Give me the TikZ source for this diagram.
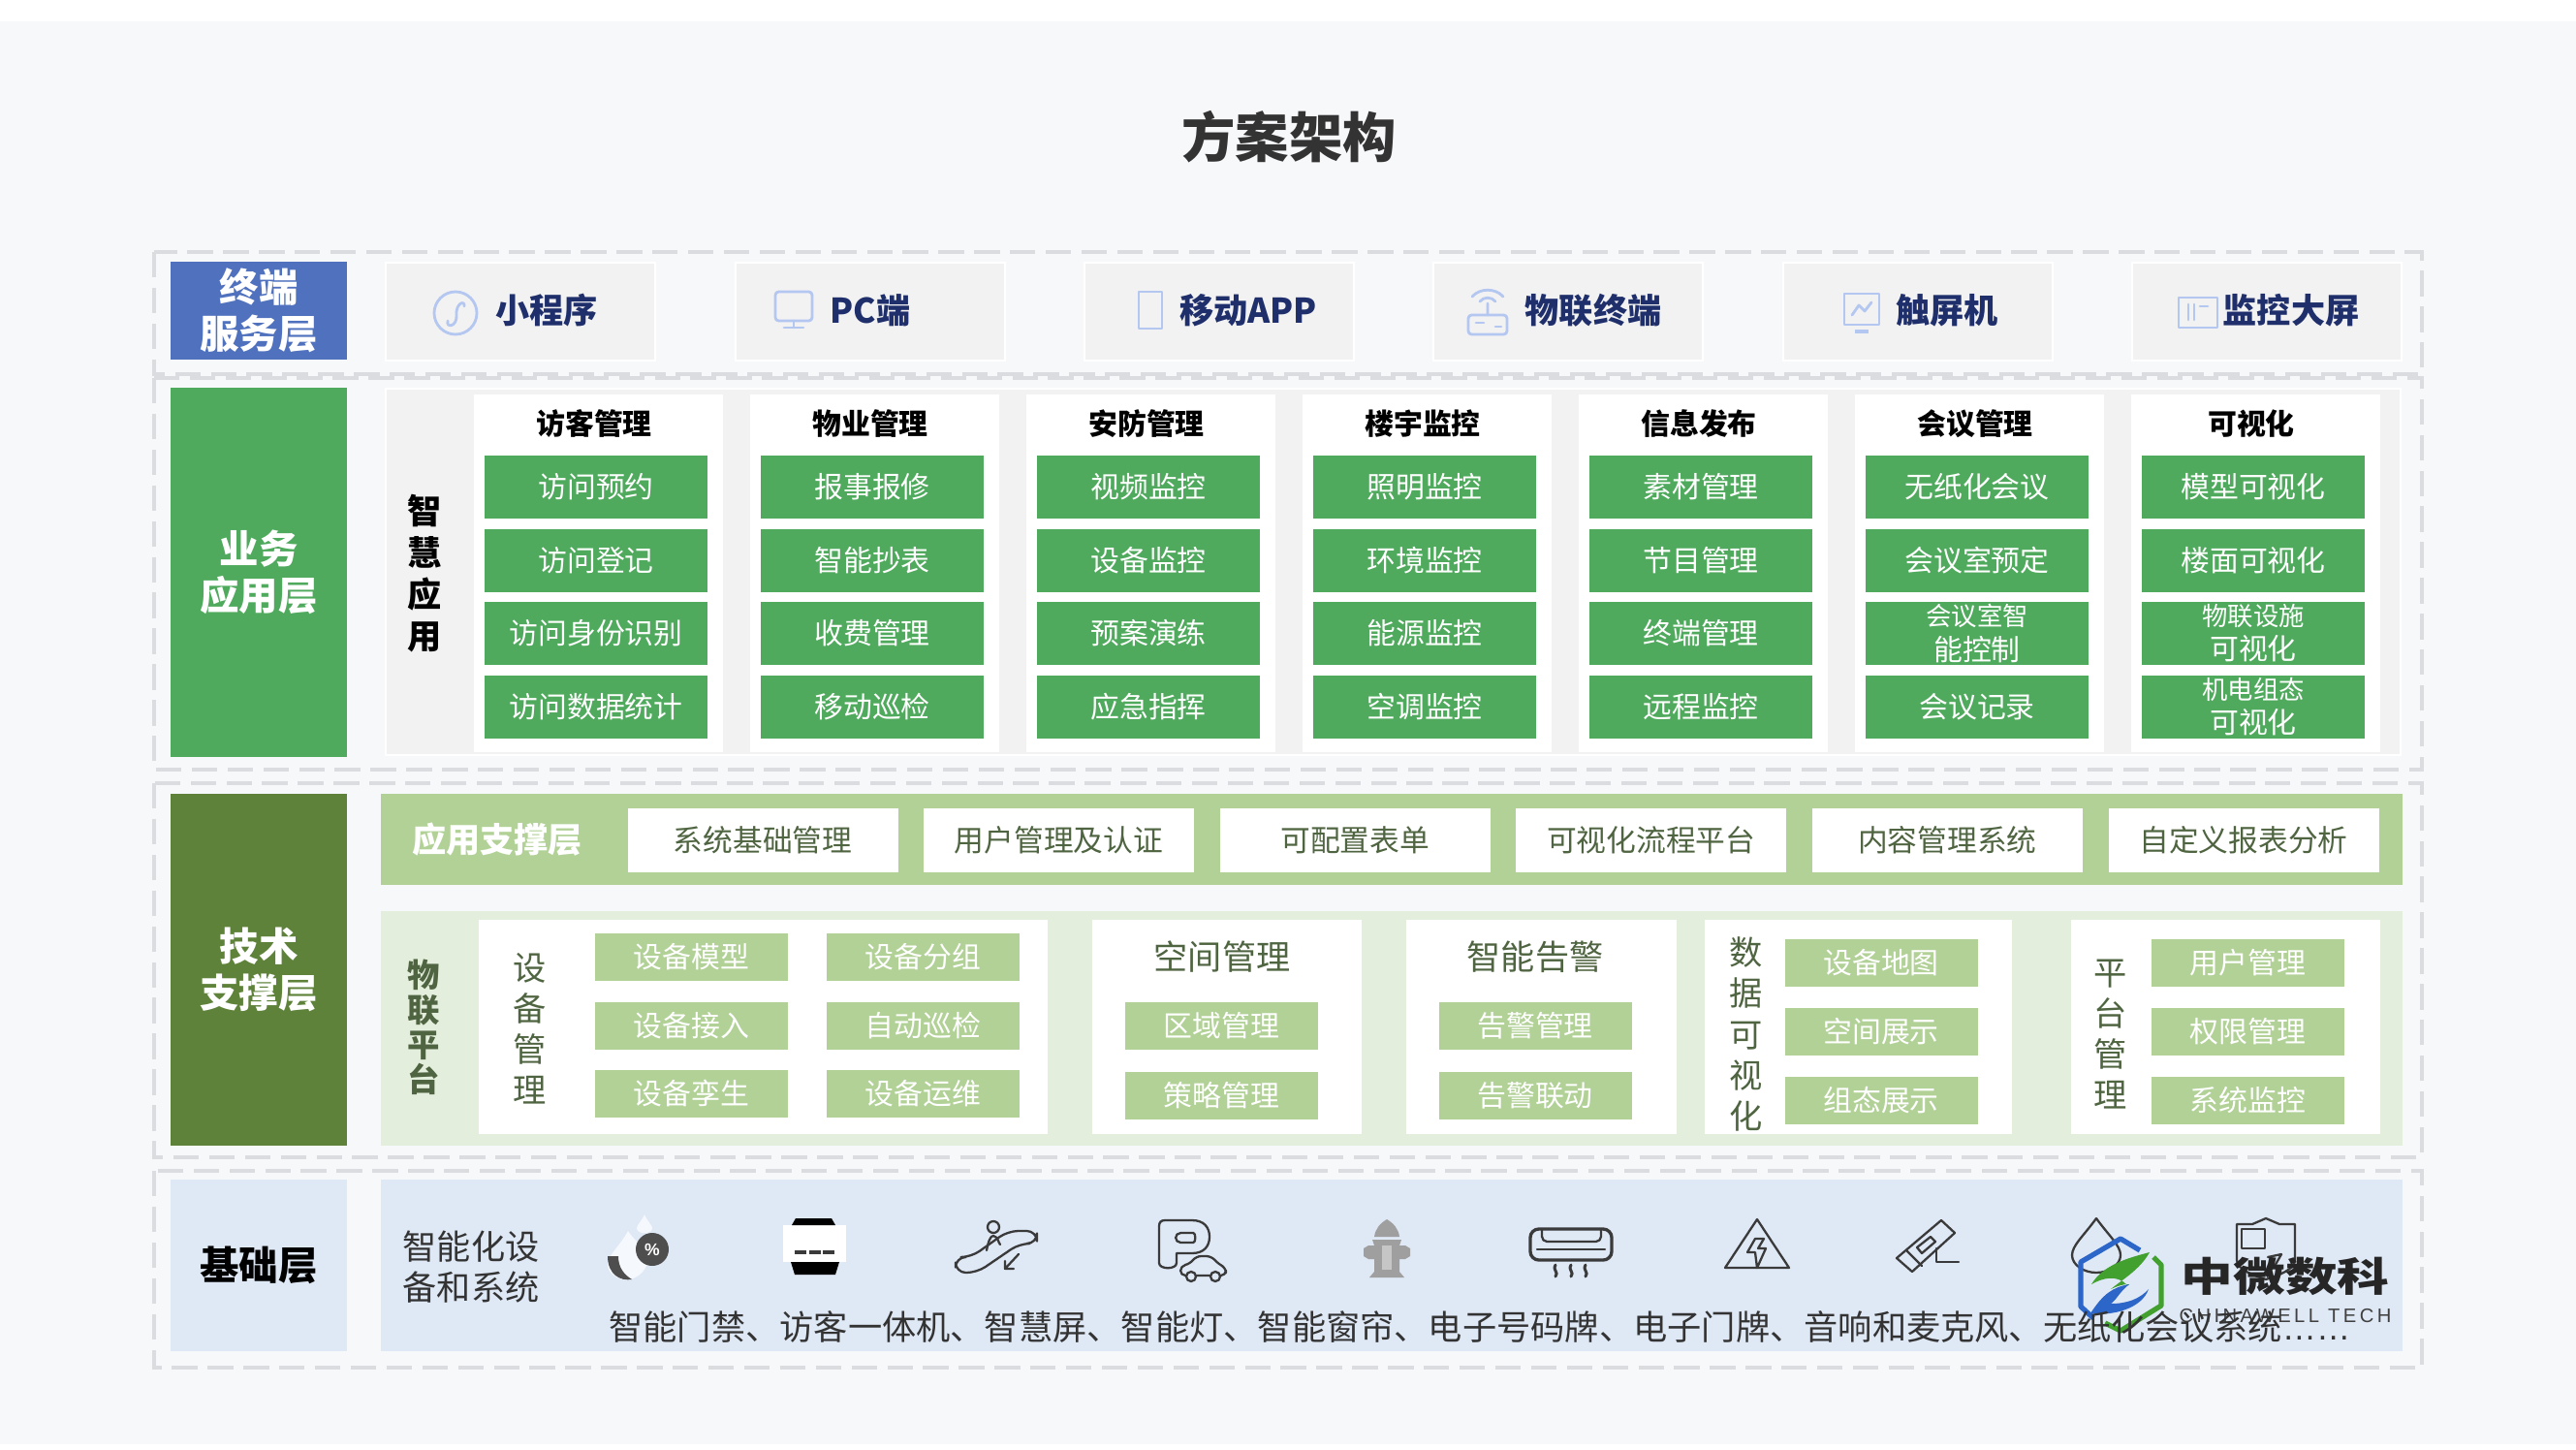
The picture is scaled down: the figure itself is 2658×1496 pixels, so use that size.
\documentclass[tikz,border=0pt]{standalone}
\usepackage{fontspec}
\setmainfont{Noto Sans CJK SC}
\newfontfamily\latinfont{Liberation Sans}
\newfontfamily\logofont[LetterSpace=17]{Liberation Sans}
\definecolor{pagebg}{HTML}{F7F8FA}
\definecolor{dashgray}{HTML}{DADCE0}
\definecolor{panelgray}{HTML}{F2F2F2}
\definecolor{termblue}{HTML}{4F71BE}
\definecolor{appgreen}{HTML}{4FAA5D}
\definecolor{techgreen}{HTML}{5E823A}
\definecolor{basefill}{HTML}{DFE8F5}
\definecolor{leafgreen}{HTML}{B1D196}
\definecolor{palegreen}{HTML}{E4EEDC}
\definecolor{navytext}{HTML}{1F2F6B}
\definecolor{olivetext}{HTML}{4F6440}
\definecolor{icondark}{HTML}{3A3A3A}
\definecolor{iconblue}{HTML}{B4C7F0}
\definecolor{logoblue}{HTML}{2B66C8}
\definecolor{logogreen}{HTML}{42A02F}
\newcommand{\twoline}[2]{\fontsize{15}{18.2}\selectfont #1\\#2}
\tikzset{
boxsize/.style 2 args={minimum width=#1*0.2mm,minimum height=#2*0.2mm},
flatbox/.style={inner sep=0pt,align=center},
dashframe/.style={draw=dashgray,line width=2.1pt,dash pattern=on 15pt off 6pt},
layerbox/.style={flatbox,text=white,font=\bfseries\fontsize{23}{27.3}\selectfont},
termbox/.style={flatbox,boxsize={278}{101},fill=panelgray,draw=white,line width=1pt},
termtext/.style={text=navytext,font=\bfseries\fontsize{20}{24}\selectfont},
panelbox/.style={flatbox,fill=#1},
colbox/.style={flatbox,boxsize={257}{369},fill=white},
headtext/.style={text=black,font=\bfseries\fontsize{17}{20}\selectfont},
appbox/.style={flatbox,boxsize={230}{65},fill=appgreen,text=white,font=\fontsize{17}{20}\selectfont},
supbox/.style={flatbox,boxsize={279}{66},fill=white,text=olivetext,font=\fontsize{17.5}{20}\selectfont},
leafbox/.style={flatbox,boxsize={199}{49},fill=leafgreen,text=white,font=\fontsize{17}{20}\selectfont},
vtext/.style={flatbox,text=olivetext,font=\fontsize{19.5}{24}\selectfont},
termicon/.style={draw=iconblue,line width=1.6pt,line join=round,line cap=round},
baseicon/.style={draw=icondark,line width=1.3pt,line join=round,line cap=round}
}
\begin{document}
\begin{tikzpicture}[x=0.2mm,y=-0.2mm]
\useasboundingbox (0,0) rectangle (2658,1496);
\fill[white] (0,0) rectangle (2658,1496);
\fill[pagebg] (0,22) rectangle (2658,1490);
\node[flatbox,text=black!80,font=\bfseries\fontsize{31.5}{36}\selectfont] (title) at (1330,141) {方案架构};
\foreach \ya/\yb in {260/386,390/794,808/1194,1208/1411}{\draw[dashframe] (159,\ya) rectangle (2499,\yb);}
\foreach \n/\y/\h/\col/\txt in {lyterm/320.5/101/termblue/{终端\\服务层},lyapp/590.5/381/appgreen/{业务\\应用层},lytech/1000.5/363/techgreen/{技术\\支撑层}}{
\node[layerbox,boxsize={182}{\h},fill=\col] (\n) at (267,\y) {\txt};}
\node[layerbox,boxsize={182}{177},fill=basefill,text=black] (lybase) at (267,1305.5) {基础层};
\foreach \n/\x/\tx/\txt in {tmmini/537/564/小程序,tmpc/898/898/PC端,tmapp/1258/1288/移动APP,tmiot/1618/1644/物联终端,tmtouch/1979/2009/触屏机,tmwall/2339/2364/监控大屏}{
\node[termbox] (\n) at (\x,321.5) {};
\node[termtext] (\n txt) at (\tx,320) {\txt};}
\begin{scope}[shift={(470,323)}]
\draw[termicon] (0,0) circle (22);
\draw[termicon] (-8,8) .. controls (-10,16) and (2,14) .. (1,2) .. controls (0,-10) and (10,-14) .. (9,-7);
\end{scope}
\begin{scope}[shift={(819,320)}]
\draw[termicon,rounded corners=2pt] (-19,-19) rectangle (19,11);
\draw[termicon] (0,11) -- (0,18) (-10,18) -- (10,18);
\end{scope}
\begin{scope}[shift={(1187,320)}]
\draw[termicon] (-12,-19) rectangle (12,19);
\end{scope}
\begin{scope}[shift={(1535,323)}]
\draw[termicon,rounded corners=2pt] (-20,2) rectangle (20,22);
\draw[termicon] (0,2) -- (0,-10) (-8,-12) .. controls (-4,-17) and (4,-17) .. (8,-12) (-16,-17) .. controls (-8,-26) and (8,-26) .. (16,-17);
\draw[termicon] (-12,10) -- (-4,10) (8,14) -- (14,14);
\end{scope}
\begin{scope}[shift={(1921,321)}]
\draw[termicon] (-18,-18) rectangle (18,14);
\draw[termicon] (-10,4) -- (-3,-6) -- (3,0) -- (10,-9);
\fill[iconblue] (-7,19) rectangle (7,23);
\end{scope}
\begin{scope}[shift={(2268,322)}]
\draw[termicon] (-20,-15) rectangle (20,16);
\draw[termicon] (-10,-8) -- (-10,8) (-4,-8) -- (-4,8) (2,-6) -- (10,-6);
\end{scope}
\node[panelbox=panelgray,boxsize={2079}{378},draw=white,line width=1pt] (apppanel) at (1437.5,590) {};
\node[flatbox,text=black,font=\bfseries\fontsize{20}{24.5}\selectfont] (appside) at (438,591.5) {智\\慧\\应\\用};
\foreach \ttl/\ia/\ib/\ic/\id [count=\colno from 0] in {访客管理/访问预约/访问登记/访问身份识别/访问数据统计,物业管理/报事报修/智能抄表/收费管理/移动巡检,安防管理/视频监控/设备监控/预案演练/应急指挥,楼宇监控/照明监控/环境监控/能源监控/空调监控,信息发布/素材管理/节目管理/终端管理/远程监控,会议管理/无纸化会议/会议室预定/{\twoline{会议室智}{能控制}}/会议记录,可视化/模型可视化/楼面可视化/{\twoline{物联设施}{可视化}}/{\twoline{机电组态}{可视化}}}{
\pgfmathsetmacro\xc{617+285*\colno}
\node[colbox] (col\colno) at (\xc,591.5) {};
\node[headtext] (head\colno) at (\xc-4,437) {\ttl};
\foreach \rowno/\yr/\txt in {1/502/\ia,2/578/\ib,3/653.5/\ic,4/729/\id}{\node[appbox] (item\colno-\rowno) at (\xc-2,\yr) {\txt};}
}
\node[panelbox=leafgreen,boxsize={2086}{94}] (suppanel) at (1436,866) {};
\node[flatbox,text=white,font=\bfseries\fontsize{20}{24}\selectfont] (suptitle) at (513,866) {应用支撑层};
\foreach \txt [count=\i from 0] in {系统基础管理,用户管理及认证,可配置表单,可视化流程平台,内容管理系统,自定义报表分析}{
\node[supbox] (sup\i) at (787+305.6*\i,867) {\txt};}
\node[panelbox=palegreen,boxsize={2086}{242}] (iotpanel) at (1436,1061) {};
\node[vtext,text=olivetext,font=\bfseries\fontsize{19}{20.5}\selectfont] (iotside) at (437,1060) {物\\联\\平\\台};
\foreach \n/\x/\w in {iota/787.5/587,iotb/1266/278,iotc/1590.5/279,iotd/1917.5/317,iote/2296.5/319}{
\node[panelbox=white,boxsize={\w}{221}] (\n) at (\x,1059.5) {};}
\node[vtext] (iotatxt) at (547,1061) {设\\备\\管\\理};
\node[vtext] (iotdtxt) at (1802,1067) {数\\据\\可\\视\\化};
\node[vtext] (ioetxt) at (2178,1067) {平\\台\\管\\理};
\node[flatbox,text=olivetext,font=\fontsize{20}{24}\selectfont] (iotbtxt) at (1261,987) {空间管理};
\node[flatbox,text=olivetext,font=\fontsize{20}{24}\selectfont] (iotctxt) at (1584,987) {智能告警};
\foreach \n/\x/\y/\txt in {la1/713.5/987/设备模型,la2/952.5/987/设备分组,la3/713.5/1058/设备接入,la4/952.5/1058/自动巡检,la5/713.5/1128/设备孪生,la6/952.5/1128/设备运维,lb1/1260.5/1058/区域管理,lb2/1260.5/1130/策略管理,lc1/1584/1058/告警管理,lc2/1584/1130/告警联动,ld1/1941/993.5/设备地图,ld2/1941/1064/空间展示,ld3/1941/1135/组态展示,le1/2319.5/993.5/用户管理,le2/2319.5/1064/权限管理,le3/2319.5/1135/系统监控}{
\node[leafbox] (\n) at (\x,\y) {\txt};}
\node[panelbox=basefill,boxsize={2086}{177}] (basepanel) at (1436,1305.5) {};
\node[flatbox,text=black!80,font=\fontsize{20}{24}\selectfont] (basetitle) at (486,1307) {智能化设\\备和系统};
%% device icons
\fill[white!70!basefill] (648,1270) .. controls (640,1285) and (627,1295) .. (627,1305) .. controls (627,1315) and (640,1322) .. (650,1320) .. controls (660,1318) and (669,1308) .. (669,1298) .. controls (669,1290) and (656,1282) .. (648,1270);
\fill[white!70!basefill] (665,1253) .. controls (662,1260) and (657,1264) .. (657,1267) .. controls (657,1274) and (673,1274) .. (673,1267) .. controls (673,1264) and (668,1260) .. (665,1253);
\fill[icondark!90] (627,1296) -- (638,1296) .. controls (638,1308) and (644,1315) .. (652,1320) .. controls (640,1322) and (627,1315) .. (627,1296);
\node[circle,fill=icondark!90,minimum size=34*0.2mm,inner sep=0pt,text=white,font=\latinfont\bfseries\fontsize{10}{10}\selectfont] (iconpct) at (673,1289) {\%};
\fill[white] (808,1264) rectangle (873,1302);
\fill[black] (817,1264) -- (821,1257) -- (858,1257) -- (862,1264) -- cycle (816,1302) -- (866,1302) -- (862,1315) -- (820,1315) -- cycle;
\foreach \x in {820,835,849}{\fill[icondark] (\x,1290) rectangle ++(12,4);}
\draw[baseicon] (1025,1266) circle (6);
\draw[baseicon] (1018,1290) .. controls (1020,1280) and (1022,1275) .. (1025,1275) .. controls (1030,1276) and (1030,1282) .. (1032,1284);
\draw[baseicon,rounded corners=6pt] (986,1297) -- (1002,1297) -- (1040,1270) -- (1070,1270) -- (1070,1283) -- (1052,1283) -- (1008,1313) -- (986,1313) -- cycle;
\draw[baseicon] (1051,1294) -- (1037,1309) (1037,1301) -- (1037,1309) -- (1046,1309);
\draw[baseicon] (1202,1259) -- (1230,1259) .. controls (1242,1259) and (1248,1266) .. (1248,1276) .. controls (1248,1286) and (1242,1293) .. (1230,1293) -- (1214,1293) -- (1214,1303) .. controls (1214,1310) and (1196,1310) .. (1196,1303) -- (1196,1265) .. controls (1196,1261) and (1198,1259) .. (1202,1259) -- cycle;
\draw[baseicon,rounded corners=3pt] (1213,1272) -- (1226,1272) .. controls (1234,1272) and (1234,1282) .. (1226,1282) -- (1213,1282) -- cycle;
\draw[baseicon,fill=basefill,rounded corners=3pt] (1218,1316) -- (1218,1306) -- (1228,1304) -- (1234,1296) -- (1250,1296) -- (1257,1304) -- (1265,1308) -- (1265,1316) -- cycle;
\draw[baseicon,fill=basefill] (1229,1317) circle (5) (1254,1317) circle (5);
\fill[gray!75] (1431,1258) .. controls (1424,1262) and (1419,1268) .. (1418,1276) -- (1444,1276) .. controls (1443,1268) and (1438,1262) .. (1431,1258) -- cycle (1416,1279) -- (1446,1279) -- (1444,1285) -- (1450,1285) -- (1455,1288) -- (1455,1296) -- (1450,1299) -- (1444,1299) -- (1444,1312) -- (1449,1318) -- (1413,1318) -- (1418,1312) -- (1418,1299) -- (1412,1299) -- (1407,1296) -- (1407,1288) -- (1412,1285) -- (1418,1285) -- cycle;
\fill[gray!45] (1426,1285) rectangle (1436,1310);
\draw[baseicon,line width=1.9pt,rounded corners=5pt] (1579,1268) rectangle (1663,1300);
\draw[baseicon,rounded corners=3pt] (1591,1268) -- (1591,1281) -- (1652,1281) -- (1652,1268);
\draw[baseicon] (1586,1289) -- (1656,1289);
\foreach \x in {1605,1621,1636}{\draw[baseicon,line width=1.7pt] (\x,1305) .. controls (\x-4,1309) and (\x+4,1313) .. (\x,1317);}
\draw[baseicon] (1813,1258) -- (1780,1308) -- (1846,1308) -- cycle;
\draw[baseicon] (1811,1278) -- (1803,1292) -- (1811,1292) -- (1813,1308) -- (1822,1288) -- (1814,1288) -- (1820,1278) -- cycle;
\draw[baseicon] (2003,1259) -- (2017,1272) -- (1973,1312) -- (1957,1298) -- cycle;
\draw[baseicon] (1968,1291) -- (1983,1306) (1978,1287) -- (1992,1276) -- (1997,1281) -- (1983,1293) -- cycle;
\draw[baseicon] (1998,1288) -- (1998,1302) -- (2021,1302);
\draw[baseicon] (2163,1257) .. controls (2150,1275) and (2138,1285) .. (2138,1295) .. controls (2138,1305) and (2150,1313) .. (2163,1313) .. controls (2176,1313) and (2188,1305) .. (2188,1295) .. controls (2188,1285) and (2176,1275) .. (2163,1257);
\draw[baseicon] (2308,1263) -- (2324,1263) -- (2338,1257) -- (2352,1263) -- (2368,1263) -- (2368,1300) .. controls (2368,1310) and (2350,1316) .. (2338,1320) .. controls (2326,1316) and (2308,1310) .. (2308,1300) -- cycle;
\draw[baseicon] (2313,1268) rectangle (2337,1288);
\draw[baseicon] (2340,1297) -- (2354,1294) -- (2346,1308);
%% logo
\draw[logoblue,line width=3pt,line join=round] (2208,1290) -- (2188,1278) -- (2147,1302) -- (2147,1348) -- (2160,1360);
\draw[logogreen,line width=3pt,line join=round] (2222,1297) -- (2230,1305) -- (2230,1347) -- (2188,1373) -- (2172,1365);
\fill[logogreen] (2158,1325) .. controls (2170,1305) and (2195,1298) .. (2218,1292) .. controls (2208,1310) and (2190,1320) .. (2178,1330) .. controls (2195,1322) and (2200,1326) .. (2195,1326) .. controls (2185,1315) and (2170,1318) .. (2158,1325);
\fill[logoblue] (2157,1355) .. controls (2170,1335) and (2180,1328) .. (2197,1325) .. controls (2185,1335) and (2185,1340) .. (2178,1345) .. controls (2195,1345) and (2208,1340) .. (2217,1330) .. controls (2210,1350) and (2180,1358) .. (2157,1355);
\node[flatbox,text=black!85,xscale=1.3,font=\bfseries\fontsize{23.5}{26}\selectfont] (logoname) at (2358,1317) {中微数科};
\node[flatbox,text=black!75,font=\logofont\fontsize{11.5}{13}\selectfont] (logotag) at (2358,1358) {CHINAWELL TECH};
\node[flatbox,anchor=west,text=black!80,font=\fontsize{20.05}{24}\selectfont] (baselist) at (628,1369) {智能门禁、访客一体机、智慧屏、智能灯、智能窗帘、电子号码牌、电子门牌、音响和麦克风、无纸化会议系统{\latinfont ……}};
\end{tikzpicture}
\end{document}
